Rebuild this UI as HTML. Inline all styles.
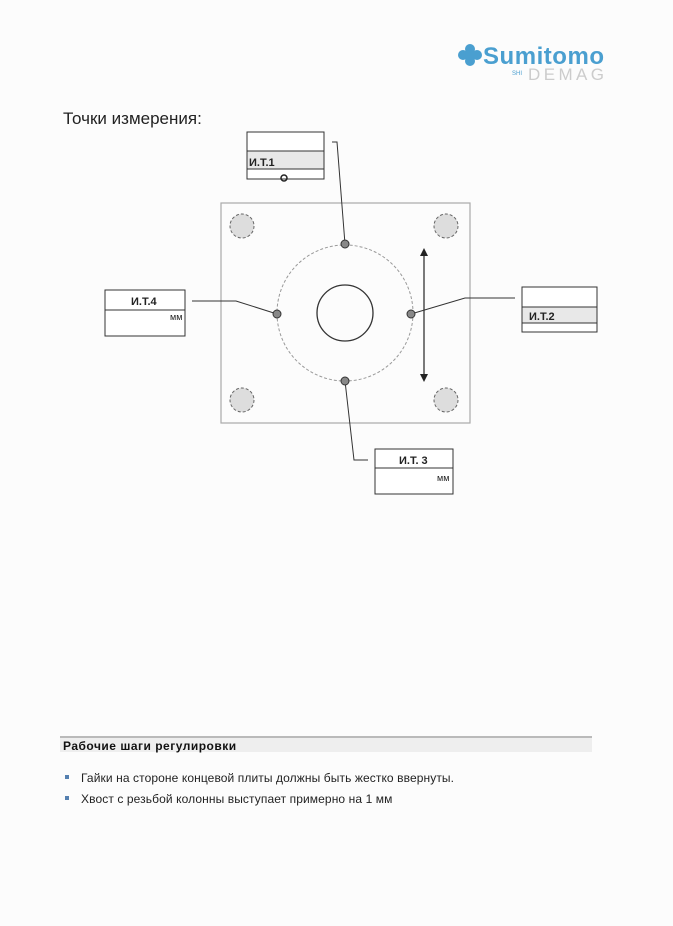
<!DOCTYPE html>
<html><head><meta charset="utf-8"><style>
body{margin:0;width:673px;height:926px;background:#fcfcfc;position:relative;overflow:hidden;font-family:"Liberation Sans",sans-serif}
.t{position:absolute;white-space:nowrap}
</style></head><body>
<div class="t" style="left:63px;top:109px;font-size:17px;color:#222">Точки измерения:</div>
<svg width="673" height="926" style="position:absolute;left:0;top:0">
<g fill="#4a9fd0"><circle cx="463" cy="55" r="5"/><circle cx="470" cy="49" r="5"/><circle cx="470" cy="61" r="5"/><circle cx="477" cy="55" r="5"/><rect x="467" y="52" width="6" height="6"/></g>
<text x="483" y="64" font-family="Liberation Sans" font-weight="bold" font-size="24" fill="#4a9fd0" textLength="121">Sumitomo</text>
<text x="512" y="75" font-family="Liberation Sans" font-size="6" fill="#4a9fd0">SHI</text>
<text x="528" y="80" font-family="Liberation Sans" font-size="17" fill="#ccc" textLength="76">DEMAG</text>
<rect x="221" y="203" width="249" height="220" fill="none" stroke="#aaa" stroke-width="1.2"/>
<g fill="#ddd" stroke="#666" stroke-dasharray="3,2"><circle cx="242" cy="226" r="12"/><circle cx="446" cy="226" r="12"/><circle cx="242" cy="400" r="12"/><circle cx="446" cy="400" r="12"/></g>
<circle cx="345" cy="313" r="68" fill="none" stroke="#999" stroke-dasharray="3,2"/>
<circle cx="345" cy="313" r="28" fill="none" stroke="#333" stroke-width="1.3"/>
<g fill="none" stroke="#333" stroke-width="1">
<polyline points="332,142 337,142 345,244"/>
<polyline points="515,298 465,298 411,314"/>
<polyline points="345,381 354,460 368,460"/>
<polyline points="192,301 236,301 277,314"/>
<line x1="424" y1="252" x2="424" y2="377" stroke-width="1.3"/>
</g>
<path d="M424,248 l-4,8 h8z M424,382 l-4,-8 h8z" fill="#222"/>
<g fill="#888" stroke="#333"><circle cx="345" cy="244" r="4"/><circle cx="277" cy="314" r="4"/><circle cx="411" cy="314" r="4"/><circle cx="345" cy="381" r="4"/></g>
<g fill="#fff" stroke="#333" stroke-width="1">
<rect x="247" y="132" width="77" height="47"/><rect x="247" y="151" width="77" height="18" fill="#e8e8e8"/>
<rect x="522" y="287" width="75" height="45"/><rect x="522" y="307" width="75" height="16" fill="#e8e8e8"/>
<rect x="375" y="449" width="78" height="45"/><line x1="375" y1="468" x2="453" y2="468"/>
<rect x="105" y="290" width="80" height="46"/><line x1="105" y1="310" x2="185" y2="310"/>
</g>
<circle cx="284" cy="178" r="3" fill="none" stroke="#222" stroke-width="1.5"/>
<g font-family="Liberation Sans" font-weight="bold" font-size="11" fill="#222">
<text x="249" y="166">И.Т.1</text><text x="529" y="320">И.Т.2</text><text x="399" y="464">И.Т. 3</text><text x="131" y="305">И.Т.4</text>
</g>
<g font-family="Liberation Sans" font-size="9" fill="#222"><text x="437" y="481">мм</text><text x="170" y="320">мм</text></g>
<line x1="60" y1="737" x2="592" y2="737" stroke="#777" stroke-width="1"/>
<rect x="60" y="738" width="532" height="14" fill="#eee"/>
<rect x="65" y="775" width="4" height="4" fill="#5580b0"/><rect x="65" y="796" width="4" height="4" fill="#5580b0"/>
</svg>
<div class="t" style="left:63px;top:739px;font-size:12px;font-weight:bold;color:#111;letter-spacing:0.5px">Рабочие шаги регулировки</div>
<div class="t" style="left:81px;top:771px;font-size:12px;color:#222;letter-spacing:0.1px">Гайки на стороне концевой плиты должны быть жестко ввернуты.</div>
<div class="t" style="left:81px;top:792px;font-size:12px;color:#222;letter-spacing:0.1px">Хвост с резьбой колонны выступает примерно на 1 мм</div>
</body></html>
